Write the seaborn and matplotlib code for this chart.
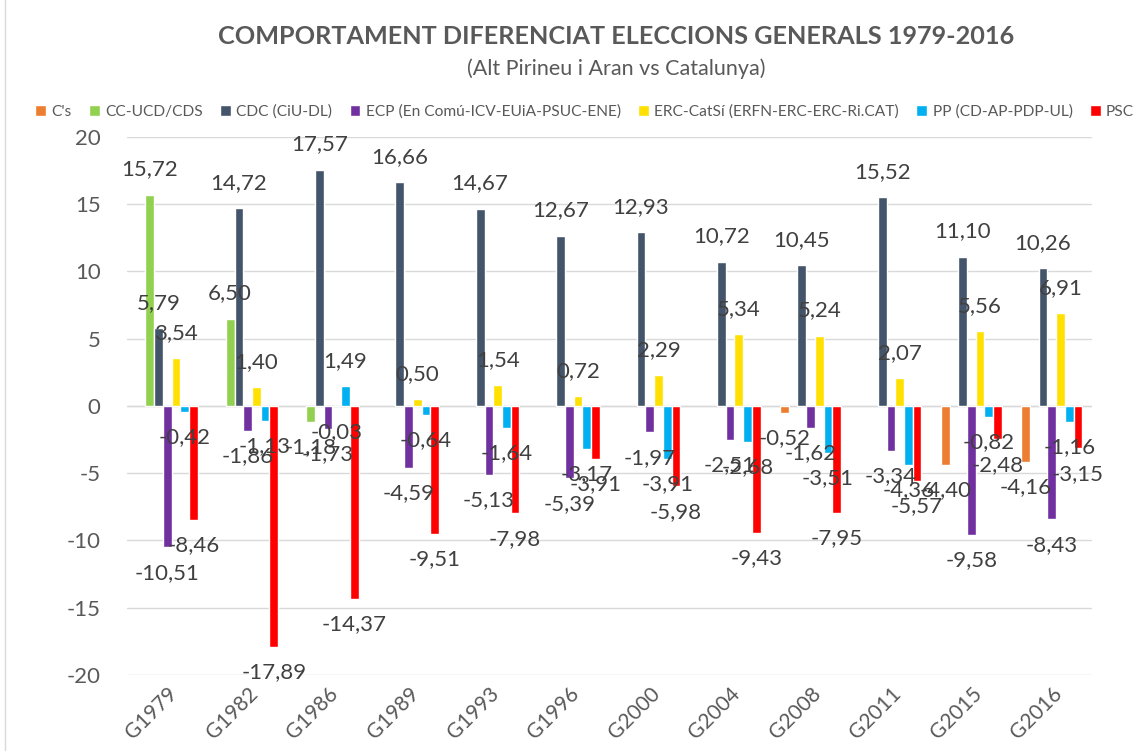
import pandas as pd
import numpy as np
import matplotlib.pyplot as plt
import seaborn as sns
from matplotlib.patches import Patch

years = ['G1979', 'G1982', 'G1986', 'G1989', 'G1993', 'G1996',
         'G2000', 'G2004', 'G2008', 'G2011', 'G2015', 'G2016']
parties = ["C's", 'CC-UCD/CDS', 'CDC (CiU-DL)', 'ECP (En Comú-ICV-EUiA-PSUC-ENE)',
           'ERC-CatSí (ERFN-ERC-ERC-Ri.CAT)', 'PP (CD-AP-PDP-UL)', 'PSC']
colors = ['#ED7D31', '#92D050', '#44546A', '#7030A0', '#FFE000', '#00B0F0', '#FF0000']

nan = np.nan
cs = [nan, nan, nan, nan, nan, nan, nan, nan, -0.52, nan, -4.40, -4.16]
cc = [15.72, 6.50, -1.18, nan, nan, nan, nan, nan, nan, nan, nan, nan]
cdc = [5.79, 14.72, 17.57, 16.66, 14.67, 12.67, 12.93, 10.72, 10.45, 15.52, 11.10, 10.26]
ecp = [-10.51, -1.86, -1.73, -4.59, -5.13, -5.39, -1.97, -2.51, -1.62, -3.34, -9.58, -8.43]
erc = [3.54, 1.40, -0.03, 0.50, 1.54, 0.72, 2.29, 5.34, 5.24, 2.07, 5.56, 6.91]
pp = [-0.42, -1.13, 1.49, -0.64, -1.64, -3.17, -3.91, -2.68, -3.51, -4.36, -0.82, -1.16]
psc = [-8.46, -17.89, -14.37, -9.51, -7.98, -3.91, -5.98, -9.43, -7.95, -5.57, -2.48, -3.15]

series = [cs, cc, cdc, ecp, erc, pp, psc]
rows = []
for party, vals in zip(parties, series):
    for y, v in zip(years, vals):
        if not np.isnan(v):
            rows.append({'year': y, 'party': party, 'value': v})
df = pd.DataFrame(rows)

sns.set_style('white')
plt.rcParams['font.family'] = ['Lato', 'DejaVu Sans']
plt.rcParams['axes.unicode_minus'] = False
txt = '#595959'

fig = plt.figure(figsize=(11.37, 7.51), dpi=100)
ax = fig.add_axes([0.1117, 0.1012, 0.8487, 0.7164])

sns.barplot(data=df, x='year', y='value', hue='party', hue_order=parties,
            order=years, palette=colors, width=0.76, ax=ax, legend=False,
            saturation=1, errorbar=None)

# etiquetes de dades a l'extrem exterior de cada barra
for cont in ax.containers:
    labels = [f'{b.get_height():.2f}'.replace('.', ',') for b in cont]
    ax.bar_label(cont, labels=labels, padding=11, fontsize=16, color='#404040')

ax.set_ylim(-20, 20)
ax.set_yticks(range(-20, 21, 5))
ax.grid(axis='y', color='#D9D9D9', linewidth=1)
ax.set_axisbelow(True)
for s in ax.spines.values():
    s.set_visible(False)
ax.axhline(0, color='#D9D9D9', linewidth=1, zorder=0.5)
ax.set_xlabel('')
ax.set_ylabel('')
ax.tick_params(axis='y', labelsize=16, labelcolor=txt, length=0, pad=19)
ax.tick_params(axis='x', labelsize=15, labelcolor=txt, length=0, pad=6)
for lab in ax.get_xticklabels():
    lab.set_rotation(45)
    lab.set_ha('right')
    lab.set_rotation_mode('anchor')

fig.text(0.542, 0.951, 'COMPORTAMENT DIFERENCIAT ELECCIONS GENERALS 1979-2016',
         ha='center', va='center', fontsize=18.2, fontweight='bold', color=txt)
fig.text(0.542, 0.909, '(Alt Pirineu i Aran vs Catalunya)',
         ha='center', va='center', fontsize=15.5, color=txt)

handles = [Patch(facecolor=c) for c in colors]
fig.legend(handles, parties, loc='center left', bbox_to_anchor=(0.031, 0.851),
           ncol=7, frameon=False, fontsize=11.2, labelcolor=txt,
           handlelength=0.7, handleheight=0.7, handletextpad=0.35,
           columnspacing=1.1, borderaxespad=0, borderpad=0)

fig.add_artist(plt.Line2D([0.004, 0.004], [0, 1], color='#D9D9D9', linewidth=1))

plt.savefig('out.png', dpi=100)
